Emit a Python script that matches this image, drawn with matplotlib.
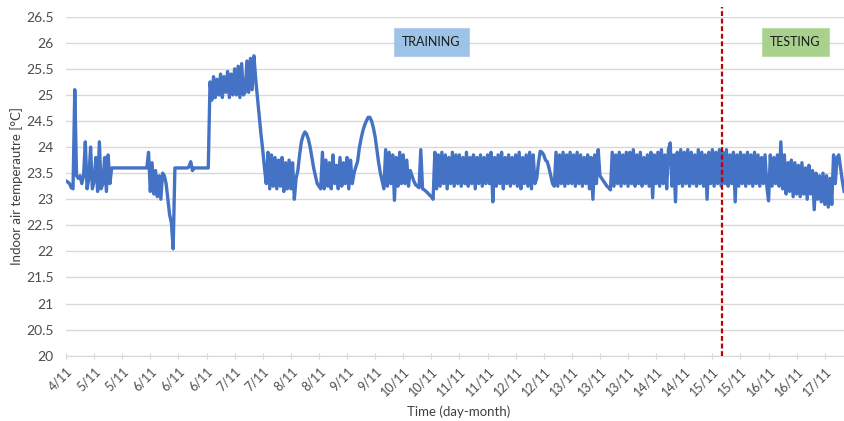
import numpy as np
import matplotlib.pyplot as plt
from matplotlib.patches import Rectangle

# indoor air temperature [degC], 16 readings per labelled period on the time axis
p00 = [23.35, 23.33, 23.3, 23.22, 23.2, 25.1, 23.45, 23.4, 23.45, 23.3, 23.45, 24.1, 23.2, 23.4, 24.0, 23.2]
p01 = [23.35, 23.8, 23.15, 24.1, 23.2, 23.3, 23.8, 23.15, 23.85, 23.3, 23.6, 23.6, 23.6, 23.6, 23.6, 23.6]
p02 = [23.6, 23.6, 23.6, 23.6, 23.6, 23.6, 23.6, 23.6, 23.6, 23.6, 23.6, 23.6, 23.6, 23.6, 23.6, 23.9]
p03 = [23.15, 23.7, 23.1, 23.55, 23.05, 23.45, 23.0, 23.5, 23.45, 23.3, 23.0, 22.7, 22.55, 22.05, 23.6, 23.6]
p04 = [23.6, 23.6, 23.6, 23.6, 23.6, 23.6, 23.62, 23.72, 23.55, 23.6, 23.6, 23.6, 23.6, 23.6, 23.6, 23.6]
p05 = [23.6, 23.6, 25.25, 24.9, 25.35, 24.95, 25.3, 25.0, 25.4, 24.95, 25.35, 25.05, 25.45, 24.95, 25.4, 25.0]
p06 = [25.5, 25.0, 25.55, 24.95, 25.6, 25.0, 25.05, 25.65, 25.05, 25.7, 25.1, 25.75, 25.3, 24.95, 24.6, 24.25]
p07 = [23.95, 23.6, 23.3, 23.9, 23.2, 23.85, 23.25, 23.8, 23.2, 23.75, 23.25, 23.8, 23.15, 23.7, 23.2, 23.75]
p08 = [23.2, 23.7, 23.0, 23.4, 23.55, 23.85, 24.1, 24.22, 24.29, 24.25, 24.15, 24.0, 23.8, 23.6, 23.45, 23.3]
p09 = [23.25, 23.2, 23.9, 23.2, 23.75, 23.25, 23.7, 23.2, 23.85, 23.3, 23.65, 23.2, 23.8, 23.25, 23.7, 23.3]
p10 = [23.8, 23.2, 23.75, 23.3, 23.5, 23.62, 23.72, 23.98, 24.16, 24.31, 24.42, 24.5, 24.57, 24.57, 24.5, 24.37]
p11 = [24.2, 23.95, 23.7, 23.5, 23.35, 23.2, 23.95, 23.25, 23.9, 23.3, 23.85, 22.98, 23.8, 23.25, 23.9, 23.3]
p12 = [23.85, 23.3, 23.75, 23.25, 23.55, 23.45, 23.35, 23.28, 23.25, 23.22, 23.95, 23.2, 23.18, 23.15, 23.12, 23.08]
p13 = [23.05, 23.0, 23.9, 23.2, 23.85, 23.25, 23.9, 23.3, 23.85, 23.2, 23.8, 23.3, 23.9, 23.25, 23.85, 23.3]
p14 = [23.85, 23.25, 23.8, 23.3, 23.9, 23.25, 23.8, 23.3, 23.85, 23.2, 23.8, 23.3, 23.85, 23.25, 23.8, 23.3]
p15 = [23.85, 23.3, 23.9, 22.95, 23.8, 23.25, 23.85, 23.3, 23.9, 23.2, 23.8, 23.3, 23.85, 23.25, 23.8, 23.3]
p16 = [23.85, 23.25, 23.9, 23.2, 23.8, 23.3, 23.85, 23.25, 23.9, 23.2, 23.85, 23.3, 23.4, 23.7, 23.92, 23.9]
p17 = [23.85, 23.75, 23.72, 23.6, 23.45, 23.3, 23.25, 23.9, 23.25, 23.85, 23.3, 23.9, 23.25, 23.85, 23.3, 23.9]
p18 = [23.3, 23.85, 23.25, 23.9, 23.3, 23.85, 23.25, 23.8, 23.3, 23.85, 23.2, 23.8, 23.0, 23.85, 23.3, 23.95]
p19 = [23.45, 23.4, 23.35, 23.3, 23.25, 23.22, 23.18, 23.9, 23.25, 23.85, 23.3, 23.9, 23.25, 23.85, 23.3, 23.9]
p20 = [23.25, 23.9, 23.3, 23.95, 23.25, 23.85, 23.3, 23.9, 23.25, 23.8, 23.3, 23.85, 23.25, 23.9, 23.03, 23.85]
p21 = [23.3, 23.9, 23.25, 23.95, 23.3, 23.85, 23.2, 23.95, 24.08, 23.25, 23.85, 22.95, 23.9, 23.3, 23.95, 23.25]
p22 = [23.9, 23.3, 23.95, 23.25, 23.9, 23.3, 23.85, 23.25, 23.95, 23.3, 23.9, 23.25, 23.85, 23.0, 23.9, 23.3]
p23 = [23.95, 23.25, 23.9, 23.3, 23.95, 23.25, 23.9, 23.3, 23.95, 23.25, 23.85, 23.3, 23.9, 22.95, 23.85, 23.25]
p24 = [23.9, 23.3, 23.85, 23.25, 23.9, 23.3, 23.85, 23.25, 23.9, 23.3, 23.85, 23.25, 23.8, 23.3, 23.85, 23.25]
p25 = [22.97, 23.85, 23.25, 23.8, 23.3, 23.85, 23.25, 24.1, 23.2, 23.85, 23.1, 23.7, 23.15, 23.75, 23.05, 23.7]
p26 = [23.1, 23.65, 23.05, 23.7, 23.1, 23.6, 23.0, 23.65, 23.1, 23.55, 22.8, 23.5, 23.0, 23.45, 22.95, 23.5]
p27 = [22.9, 23.45, 22.85, 23.4, 22.9, 23.85, 23.3, 23.8, 23.85, 23.6, 23.35, 23.15]

periods = [p00, p01, p02, p03, p04, p05, p06, p07, p08, p09, p10, p11, p12, p13,
           p14, p15, p16, p17, p18, p19, p20, p21, p22, p23, p24, p25, p26, p27]

tick_labels = ['4/11', '5/11', '5/11', '6/11', '6/11', '6/11', '7/11', '7/11',
               '8/11', '8/11', '9/11', '9/11', '10/11', '10/11', '11/11', '11/11',
               '12/11', '12/11', '13/11', '13/11', '13/11', '14/11', '14/11',
               '15/11', '15/11', '16/11', '16/11', '17/11']

split_at = 23.35  # training / testing boundary, in axis periods

temps = np.concatenate([np.array(p, dtype=float) for p in periods])
t = np.arange(len(temps)) / 16.0

plt.rcParams['font.family'] = ['Lato', 'DejaVu Sans']
grey = '#4d4d4d'

fig = plt.figure(figsize=(8.45, 4.21), dpi=100)
ax = fig.add_axes([66 / 845, 1 - 355.7 / 421, 1 - 66 / 845, (355.7 - 16.7) / 421])

ax.plot(t, temps, color='#4472c4', lw=2.4, solid_joinstyle='round', zorder=3)

ax.set_xlim(0, 27.72)
ax.set_ylim(20, 26.5)
yt = np.arange(20, 26.51, 0.5)
ax.set_yticks(yt)
ax.set_yticklabels([f'{v:g}' for v in yt], color=grey, fontsize=10)
ax.tick_params(axis='y', length=0, pad=9)
ax.grid(axis='y', color='#d9d9d9', lw=1)
ax.set_axisbelow(True)

ax.set_xticks(np.arange(len(tick_labels)))
ax.set_xticklabels(tick_labels, rotation=45, ha='right', va='top',
                   rotation_mode='anchor', color=grey, fontsize=9)
ax.tick_params(axis='x', length=4, direction='inout', color='#d9d9d9', pad=5)

for s in ['top', 'right', 'left']:
    ax.spines[s].set_visible(False)
ax.spines['bottom'].set_color('#d9d9d9')

# split line between training and testing data
ax.plot([split_at, split_at], [20, 26.68], color='#c00000', lw=1.6,
        ls=(0, (2.2, 1.2)), clip_on=False, zorder=4)

# phase labels
def phase_box(x0, x1, label, face, edge):
    ax.add_patch(Rectangle((x0, 25.75), x1 - x0, 0.53, facecolor=face,
                           edgecolor=edge, lw=0.8, zorder=5))
    ax.text((x0 + x1) / 2, 26.015, label, ha='center', va='center',
            fontsize=9, color='#1a1a1a', zorder=6)

phase_box(11.67, 14.34, 'TRAINING', '#9dc3e6', '#b4cde8')
phase_box(24.77, 27.15, 'TESTING', '#a9d18e', '#bcdca6')

fig.text(17 / 845, 0.558, 'Indoor air temperautre [°C]', rotation=90,
         ha='center', va='center', color='#404040', fontsize=9.5)
fig.text(459 / 845, 1 - 412 / 421, 'Time (day-month)', ha='center',
         va='center', color='#404040', fontsize=9.5)

fig.savefig('out.png', dpi=100)
